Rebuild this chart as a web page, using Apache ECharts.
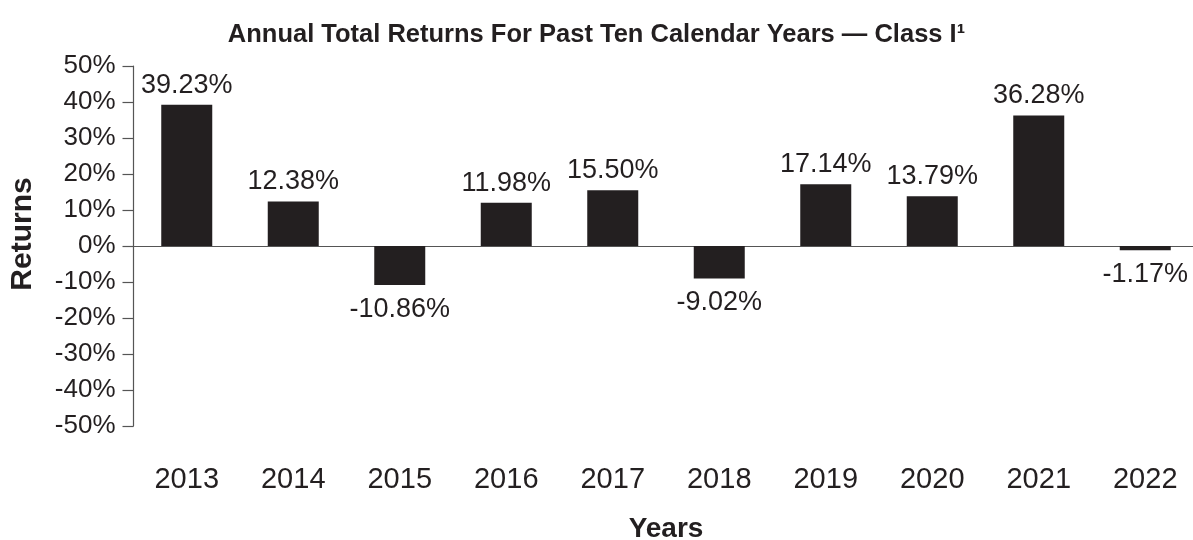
<!DOCTYPE html>
<html>
<head>
<meta charset="utf-8">
<script src="https://cdn.jsdelivr.net/npm/echarts@6/dist/echarts.min.js"></script>
<style>
html, body { margin: 0; padding: 0; background: #fff; }
#chart { width: 1193px; height: 540px; }
</style>
</head>
<body>
<div id="chart"></div>
<script>
// annual returns, class I
var years = ['2013', '2014', '2015', '2016', '2017', '2018', '2019', '2020', '2021', '2022'];
var returns = [39.23, 12.38, -10.86, 11.98, 15.50, -9.02, 17.14, 13.79, 36.28, -1.17];
var yMin = -50, yMax = 50, yStep = 10;

var ink = '#231f20';
var font = '"Liberation Sans", Arial, sans-serif';

var chart = echarts.init(document.getElementById('chart'));

var barData = returns.map(function (v) {
    return {
        value: v,
        label: v < 0 ? { position: 'bottom', distance: 11 } : { position: 'top', distance: 6 }
    };
});

chart.setOption({
    animation: false,
    backgroundColor: '#fff',
    title: {
        text: 'Annual Total Returns For Past Ten Calendar Years \u2014 Class I\u00b9',
        left: 'center',
        top: 17,
        textStyle: { fontFamily: font, fontSize: 25.5, fontWeight: 'bold', color: ink }
    },
    grid: { left: 133.5, top: 66, width: 1065, height: 360, containLabel: false, outerBoundsMode: 'none' },
    xAxis: [{
        type: 'category',
        data: years,
        axisLine: { onZero: true, lineStyle: { color: '#555', width: 1.2 } },
        axisTick: { show: false },
        axisLabel: { show: false }
    }, {
        type: 'category',
        data: years,
        position: 'bottom',
        axisLine: { show: false },
        axisTick: { show: false },
        axisLabel: { margin: 39, fontFamily: font, fontSize: 29, color: ink },
        name: 'Years',
        nameLocation: 'middle',
        nameGap: 89,
        nameTextStyle: { fontFamily: font, fontSize: 28, fontWeight: 'bold', color: ink }
    }],
    yAxis: {
        type: 'value',
        min: yMin,
        max: yMax,
        interval: yStep,
        axisLine: { show: true, lineStyle: { color: '#555', width: 1.2 } },
        axisTick: { show: true, length: 11, lineStyle: { color: '#555', width: 1.2 } },
        splitLine: { show: false },
        axisLabel: {
            margin: 18,
            fontFamily: font,
            fontSize: 26,
            color: ink,
            formatter: '{value}%'
        },
        name: 'Returns',
        nameLocation: 'middle',
        nameGap: 96,
        nameTextStyle: { fontFamily: font, fontSize: 30, fontWeight: 'bold', color: ink, padding: [0, 0, 0, 24] }
    },
    series: [{
        type: 'bar',
        xAxisIndex: 0,
        data: barData,
        barWidth: 51,
        itemStyle: { color: ink },
        label: {
            show: true,
            fontFamily: font,
            fontSize: 27,
            color: ink,
            formatter: function (p) { return p.value.toFixed(2) + '%'; }
        }
    }]
});
</script>
</body>
</html>
